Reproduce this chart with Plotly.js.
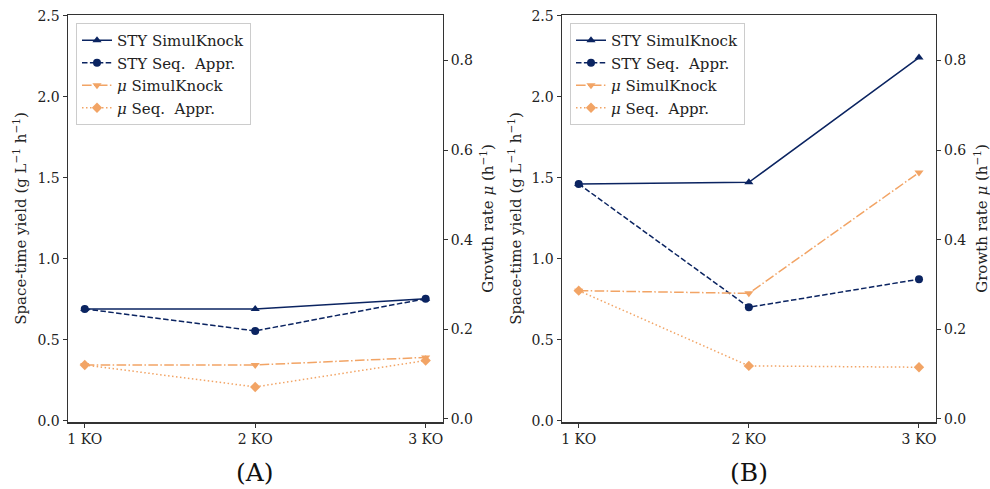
<!DOCTYPE html>
<html>
<head>
<meta charset="utf-8">
<script src="https://cdn.plot.ly/plotly-3.0.1.min.js"></script>
<style>html,body{margin:0;padding:0;background:#fff;}#chart{width:990px;height:489px;}</style>
</head>
<body>
<div id="chart"></div>
<script>
const categories = ['1 KO', '2 KO', '3 KO'];
// Panel A
const stySimulA = [0.69, 0.69, 0.753];
const stySeqA   = [0.69, 0.554, 0.753];
const muSimulA  = [0.120, 0.120, 0.137];
const muSeqA    = [0.120, 0.071, 0.130];
// Panel B
const stySimulB = [1.461, 1.471, 2.241];
const stySeqB   = [1.461, 0.700, 0.873];
const muSimulB  = [0.286, 0.280, 0.550];
const muSeqB    = [0.286, 0.118, 0.115];

const panelLabels = ['(A)', '(B)'];
const seriesNames = ['STY SimulKnock', 'STY Seq.  Appr.', '<i>μ</i> SimulKnock', '<i>μ</i> Seq.  Appr.'];
const yLeftTicks = [0.0, 0.5, 1.0, 1.5, 2.0, 2.5];
const yRightTicks = [0.0, 0.2, 0.4, 0.6, 0.8];

const NAVY = '#0b2461';
const ORANGE = '#f2a465';
const FONT = "'DejaVu Serif', 'Liberation Serif', serif";

function mk(x, y, name, color, dash, symbol, xa, ya, legend) {
  return {
    x: x, y: y, name: name, type: 'scatter', mode: 'lines+markers',
    xaxis: xa, yaxis: ya, legend: legend,
    line: {color: color, width: 1.5, dash: dash},
    marker: {color: color, symbol: symbol, size: 8}
  };
}
const DASH = '5.5px,2.4px';
const DASHDOT = '9.6px,2.4px,1.5px,2.4px';
const DOT = '1.5px,2.5px';

const traces = [
  mk(categories, stySimulA, seriesNames[0], NAVY, 'solid', 'triangle-up', 'x', 'y', 'legend'),
  mk(categories, stySeqA, seriesNames[1], NAVY, DASH, 'circle', 'x', 'y', 'legend'),
  mk(categories, muSimulA, seriesNames[2], ORANGE, DASHDOT, 'triangle-down', 'x', 'y2', 'legend'),
  mk(categories, muSeqA, seriesNames[3], ORANGE, DOT, 'diamond', 'x', 'y2', 'legend'),
  mk(categories, stySimulB, seriesNames[0], NAVY, 'solid', 'triangle-up', 'x2', 'y3', 'legend2'),
  mk(categories, stySeqB, seriesNames[1], NAVY, DASH, 'circle', 'x2', 'y3', 'legend2'),
  mk(categories, muSimulB, seriesNames[2], ORANGE, DASHDOT, 'triangle-down', 'x2', 'y4', 'legend2'),
  mk(categories, muSeqB, seriesNames[3], ORANGE, DOT, 'diamond', 'x2', 'y4', 'legend2')
];

const W = 990, H = 489;
const yDom = [(H - 422.3) / H, (H - 15.3) / H];
const xDomA = [67.7 / W, 442.7 / W];
const xDomB = [561.7 / W, 936 / W];
const AX = '#333333';
const tickFont = {family: FONT, size: 14, color: '#222'};

function xAxis(dom, anchor) {
  return {domain: dom, anchor: anchor, type: 'category', range: [-0.1, 2.1],
    showline: true, linecolor: AX, linewidth: 1.2, mirror: true,
    ticks: 'outside', ticklen: 4, tickcolor: AX, showgrid: false, zeroline: false,
    tickfont: tickFont, fixedrange: true};
}
function yLeft(anchor) {
  return {domain: yDom, anchor: anchor, range: [-0.01, 2.502], tickvals: yLeftTicks,
    ticktext: yLeftTicks.map(v => v.toFixed(1)),
    showline: true, linecolor: AX, linewidth: 1.2, ticks: 'outside', ticklen: 4, tickcolor: AX,
    showgrid: false, zeroline: false, tickfont: tickFont};
}
function yRight(over, anchor) {
  return {overlaying: over, side: 'right', anchor: anchor, range: [-0.008, 0.901], tickvals: yRightTicks,
    ticktext: yRightTicks.map(v => v.toFixed(1)),
    showline: true, linecolor: AX, linewidth: 1.2, ticks: 'outside', ticklen: 4, tickcolor: AX,
    showgrid: false, zeroline: false, tickfont: tickFont};
}
function legendAt(xpx) {
  return {x: xpx / W, y: (H - 23) / H, xanchor: 'left', yanchor: 'top', xref: 'paper', yref: 'paper',
    bgcolor: 'rgba(255,255,255,0.85)', bordercolor: '#cccccc', borderwidth: 1,
    font: {family: FONT, size: 15, color: '#222'}, itemwidth: 30, tracegroupgap: 0};
}

const yTitle = 'Space-time yield (g L<sup>−1</sup> h<sup>−1</sup>)';
const y2Title = 'Growth rate <i>μ</i> (h<sup>−1</sup>)';
const annFont = {family: FONT, size: 15, color: '#222'};

function ann(text, xpx, ypx, font, angle) {
  return {text: text, x: xpx / W, y: (H - ypx) / H, xref: 'paper', yref: 'paper',
    xanchor: 'center', yanchor: 'middle', textangle: angle || 0, showarrow: false, font: font};
}

const layout = {
  width: W, height: H, margin: {l: 0, r: 0, t: 0, b: 0},
  paper_bgcolor: '#ffffff', plot_bgcolor: '#ffffff',
  font: {family: FONT},
  xaxis: xAxis(xDomA, 'y'),
  yaxis: yLeft('x'),
  yaxis2: yRight('y', 'x'),
  xaxis2: xAxis(xDomB, 'y3'),
  yaxis3: yLeft('x2'),
  yaxis4: yRight('y3', 'x2'),
  legend: legendAt(76),
  legend2: legendAt(570),
  annotations: [
    ann(yTitle, 20, 218.8, annFont, -90),
    ann(y2Title, 487, 218.8, annFont, -90),
    ann(yTitle, 515, 218.8, annFont, -90),
    ann(y2Title, 981, 218.8, annFont, -90),
    ann(panelLabels[0], 255, 472, {family: FONT, size: 25, color: '#111'}),
    ann(panelLabels[1], 749, 472, {family: FONT, size: 25, color: '#111'})
  ],
  showlegend: true
};

Plotly.newPlot('chart', traces, layout, {displayModeBar: false, staticPlot: true});
</script>
</body>
</html>
